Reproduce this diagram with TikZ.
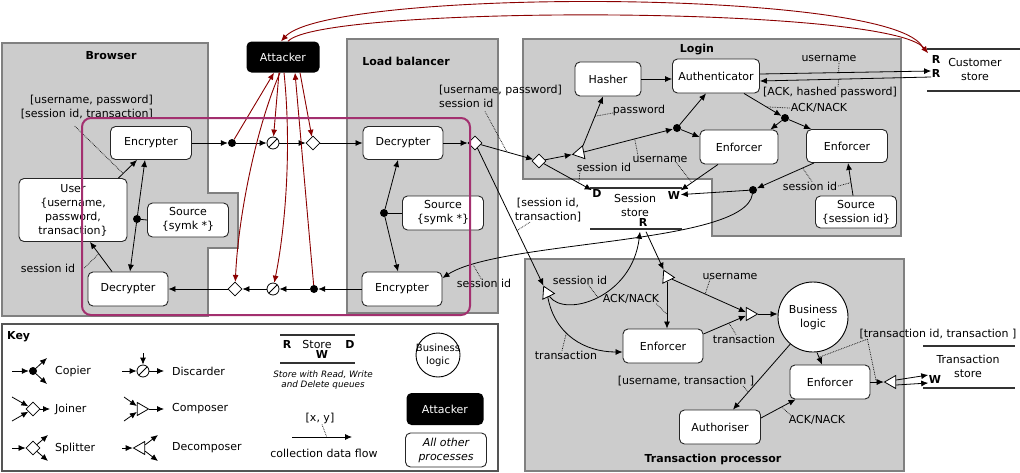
\documentclass[tikz,border=0pt]{standalone}
\usepackage{fontspec}
\setmainfont{DejaVu Sans}
\usetikzlibrary{shapes.geometric,arrows.meta}
\definecolor{panelgray}{HTML}{CCCCCC}
\definecolor{paneledge}{HTML}{808080}
\definecolor{attackred}{HTML}{8B0000}
\definecolor{trustline}{HTML}{A3306F}
\definecolor{keyedge}{HTML}{555555}
\tikzset{
  every node/.style={font=\fontsize{11}{14}\selectfont},
  panel/.style={fill=panelgray, draw=paneledge, line width=1.2pt},
  proc/.style={draw=black!85, fill=white, rounded corners=5pt, align=center, line width=0.9pt, inner sep=2pt},
  atkbox/.style={fill=black, text=white, rounded corners=5pt, inner sep=2pt, align=center},
  copier/.style={circle, fill=black, inner sep=0pt, minimum size=8pt},
  discarder/.style={circle, draw, fill=white, inner sep=0pt, minimum size=12pt, line width=0.8pt,
    path picture={\draw[line width=0.8pt] (path picture bounding box.south west) -- (path picture bounding box.north east);}},
  dmd/.style={diamond, draw, fill=white, inner sep=0pt, minimum size=14pt, line width=0.8pt},
  tri/.style={regular polygon, regular polygon sides=3, draw, fill=white, inner sep=0pt, minimum size=15pt, line width=0.8pt, shape border rotate=#1},
  flow/.style={line width=0.8pt, -{Latex[length=7pt,width=6pt]}},
  plainline/.style={line width=0.8pt},
  redflow/.style={draw=attackred, line width=0.9pt, -{Latex[length=7pt,width=6pt]}},
  leader/.style={densely dotted, line width=0.7pt},
  lbl/.style={inner sep=0pt, align=center},
  ttl/.style={inner sep=0pt, font=\fontsize{11}{14}\selectfont\bfseries},
  qlet/.style={inner sep=0.5pt, font=\fontsize{11}{14}\selectfont\bfseries},
  storeline/.style={line width=1.2pt, draw=black!80},
}
\begin{document}
\begin{tikzpicture}[x=1pt,y=-1pt]
\useasboundingbox (0,0) rectangle (1020,472);
\fill[white] (0,0) rectangle (1020,472);

% ---------- panels
\draw[panel] (2,43) -- (208,43) -- (208,193) -- (238,193) -- (238,248) -- (208,248) -- (208,316) -- (2,316) -- cycle;
\draw[panel] (347,39) rectangle (498,313);
\draw[panel] (523,39) -- (901,39) -- (901,236) -- (712,236) -- (712,179) -- (523,179) -- cycle;
\draw[panel] (525,259) rectangle (904,471);
\draw[draw=keyedge, line width=1.2pt] (2,324) rectangle (498,471);

\node[ttl] (tBrowser) at (111,56) {Browser};
\node[ttl] (tLoad) at (406,61) {Load balancer};
\node[ttl] (tLogin) at (697,50) {Login};
\node[ttl] (tTrans) at (713,459) {Transaction processor};
\node[ttl, anchor=west] (tKey) at (7,337) {Key};

% ---------- browser
\node[proc, minimum width=81pt, minimum height=33pt] (brEnc) at (151,143) {Encrypter};
\node[proc, minimum width=108pt, minimum height=63pt] (brUser) at (73,210) {User\\\{username,\\password,\\transaction\}};
\node[proc, minimum width=81pt, minimum height=34pt] (brSrc) at (188,220) {Source\\\{symk *\}};
\node[proc, minimum width=80pt, minimum height=34pt] (brDec) at (128,289) {Decrypter};
\node[copier] (brCp) at (137,219) {};

% ---------- attacker and channel
\node[atkbox, minimum width=73pt, minimum height=31pt] (atk) at (283,57) {Attacker};
\node[copier] (aCp1) at (232,143) {};
\node[discarder] (aDs1) at (273,143) {};
\node[dmd] (aJn1) at (313,143) {};
\node[copier] (aCp2) at (314,289) {};
\node[discarder] (aDs2) at (273,289) {};
\node[dmd] (aJn2) at (235,289) {};

% ---------- load balancer
\node[proc, minimum width=80pt, minimum height=33pt] (lbDec) at (403,143) {Decrypter};
\node[proc, minimum width=81pt, minimum height=34pt] (lbSrc) at (443,213) {Source\\\{symk *\}};
\node[copier] (lbCp) at (384,213) {};
\node[proc, minimum width=80pt, minimum height=34pt] (lbEnc) at (402,289) {Encrypter};
\node[dmd] (lbSp) at (475,143) {};

% ---------- login
\node[dmd] (lgSp) at (539,161) {};
\node[tri=101] (lgDc) at (580,153) {};
\node[proc, minimum width=66pt, minimum height=34pt] (hash) at (608,79) {Hasher};
\node[proc, minimum width=87pt, minimum height=34pt] (auth) at (716,76) {Authenticator};
\node[copier] (lgCp1) at (677,128) {};
\node[proc, minimum width=78pt, minimum height=34pt] (enfL) at (739,147) {Enforcer};
\node[proc, minimum width=81pt, minimum height=33pt] (enfR) at (847,146) {Enforcer};
\node[proc, minimum width=81pt, minimum height=32pt] (srcSid) at (856,212) {Source\\\{session id\}};
\node[copier] (lgCp2) at (785,118) {};
\node[copier] (lgCp3) at (753,190) {};

% ---------- session store
\draw[storeline] (590,188) -- (682,188);
\draw[storeline] (590,229) -- (682,229);
\node[qlet] (ssD) at (597,193) {D};
\node[qlet] (ssW) at (674,195) {W};
\node[qlet] (ssR) at (643,222) {R};
\node[lbl] (ssName) at (635,205) {Session\\store};

% ---------- customer store
\draw[storeline] (927,49) -- (1020,49);
\draw[storeline] (927,91) -- (1020,91);
\node[qlet] (csR1) at (936,59) {R};
\node[qlet] (csR2) at (936,73) {R};
\node[lbl] (csName) at (975,69) {Customer\\store};

% ---------- transaction processor
\node[tri=26] (tpDc1) at (547,293) {};
\node[tri=26] (tpDc2) at (667,277) {};
\node[tri=-90] (tpCo) at (750,314) {};
\node[proc, minimum width=80pt, minimum height=34pt] (tpEnfL) at (663,346) {Enforcer};
\node[circle, draw, fill=white, line width=0.9pt, minimum size=70pt, inner sep=0pt] (bl) at (813,317) {};
\node[lbl] (blT) at (bl) {Business\\logic};
\node[proc, minimum width=80pt, minimum height=34pt] (tpEnfR) at (830,382) {Enforcer};
\node[proc, minimum width=81pt, minimum height=34pt] (authz) at (720,427) {Authoriser};
\node[tri=90] (tpDc3) at (892,382) {};

% ---------- transaction store
\draw[storeline] (923,346) -- (1015,346);
\draw[storeline] (923,388) -- (1015,388);
\node[lbl] (tsName) at (968,366) {Transaction\\store};
\node[qlet] (tsW) at (935,379) {W};

% ---------- browser flows
\draw[flow] ([xshift=-9pt]brUser.north east) -- coordinate[pos=0.25] (fUserEnc) ([xshift=-14pt]brEnc.south);
\draw[flow] ([xshift=-16pt]brDec.north) -- coordinate[pos=0.6] (fDecUser) ([xshift=17pt]brUser.south);
\draw[flow] (brCp) -- ([xshift=-6pt]brEnc.south);
\draw[flow] (brCp) -- ([xshift=2pt]brDec.north);
\draw[plainline] (brSrc.west) -- (brCp);

% ---------- channel flows
\draw[flow] (brEnc) -- (aCp1);
\draw[flow] (aCp1) -- (aDs1);
\draw[flow] (aDs1) -- (aJn1);
\draw[flow] (aJn1) -- (lbDec);
\draw[flow] (lbEnc) -- (aCp2);
\draw[flow] (aCp2) -- (aDs2);
\draw[flow] (aDs2) -- (aJn2);
\draw[flow] (aJn2) -- (brDec);

% ---------- load balancer flows
\draw[flow] (lbDec) -- (lbSp);
\draw[flow] (lbCp) -- ([xshift=-5pt]lbDec.south);
\draw[flow] (lbCp) -- ([xshift=-4pt]lbEnc.north);
\draw[plainline] (lbSrc.west) -- (lbCp);
\draw[flow] (lbSp) -- coordinate[pos=0.5] (fLbLg) (lgSp);
\draw[flow] (lbSp) -- coordinate[pos=0.6] (fLbTp) (tpDc1);

% ---------- login flows
\draw[flow] (lgSp) -- (lgDc);
\draw[flow] (lgSp) -- coordinate[pos=0.73] (fSpD) (ssD);
\draw[flow] (lgDc) -- coordinate[pos=0.6] (fDcHash) ([xshift=-5pt]hash.south);
\draw[flow] (lgDc) -- coordinate[pos=0.57] (fDcCp) (lgCp1);
\draw[flow] (hash.east) -- (auth.west |- hash.east);
\draw[flow] (lgCp1) -- ([xshift=-10pt]auth.south);
\draw[flow] (lgCp1) -- ([yshift=10pt]enfL.west);
\draw[flow] ([xshift=-21pt]enfL.south) -- coordinate[pos=0.7] (fEnfW) (ssW);
\draw[flow] ([xshift=28pt]auth.south) -- coordinate[pos=0.6] (fAuthCp) (lgCp2);
\draw[flow] (lgCp2) -- ([xshift=-8pt]enfL.north east);
\draw[flow] (lgCp2) -- ([xshift=5pt]enfR.north west);
\draw[flow] ([xshift=-33pt]enfR.south) -- coordinate[pos=0.2] (fEnfRCp) (lgCp3);
\draw[flow] ([xshift=-3pt]srcSid.north) -- coordinate[pos=0.4] (fSrcEnf) ([xshift=1pt]enfR.south);
\draw[flow] (lgCp3) -- (ssW);
\draw[flow] (lgCp3) .. controls (745,245) and (500,240) .. ([yshift=11pt]lbEnc.east) coordinate[pos=0.87] (fCpLb);
\draw[flow] ([yshift=2pt]auth.east) -- coordinate[pos=0.46] (fAuthCs) ([yshift=2pt]csR2.west);
\draw[flow] ([yshift=-4pt]csR2.west) -- coordinate[pos=0.54] (fCsAuth) ([yshift=-5pt]auth.east);

% ---------- transaction processor flows
\draw[flow] (tpDc1) .. controls (565,318) and (632,298) .. ([xshift=-3pt,yshift=-5pt]ssR.south) coordinate[pos=0.5] (fSessCurve);
\draw[flow] (tpDc1) .. controls (555,335) and (585,352) .. ([yshift=-6pt]tpEnfL.west) coordinate[pos=0.4] (fTransCurve);
\draw[flow] ([xshift=3pt,yshift=-5pt]ssR.south) -- (tpDc2);
\draw[flow] (tpDc2) -- coordinate[pos=0.7] (fDc2Enf) (tpDc2 |- tpEnfL.north);
\draw[flow] (tpDc2) -- coordinate[pos=0.45] (fDc2Co) (tpCo);
\draw[flow] ([yshift=12pt]tpEnfL.east) -- coordinate[pos=0.6] (fEnfCo) (tpCo);
\draw[flow] (tpCo) -- (bl.west |- tpCo);
\draw[flow] ([xshift=4pt]bl.south) -- coordinate[pos=0.4] (fBlEnf) ([xshift=-8pt]tpEnfR.north);
\draw[flow] (bl.230) -- coordinate[pos=0.73] (fBlAz) ([xshift=13pt]authz.north);
\draw[flow] ([yshift=9pt]authz.east) -- coordinate[pos=0.6] (fAzEnf) ([xshift=6pt]tpEnfR.south west);
\draw[flow] (tpEnfR) -- coordinate[pos=0.45] (fEnfDc) (tpDc3);
\draw[flow] ([yshift=2pt]tpDc3.east) -- ([yshift=4pt]tsW.west);
\draw[flow] ([yshift=-3pt]tpDc3.east) -- ([yshift=-4pt]tsW.west);

% ---------- flow labels
\node[lbl, align=right, anchor=east] (lbBr1) at (153,107) {[username, password]\\{}[session id, transaction]};
\node[lbl] (lbBrSid) at (48,268) {session id};
\node[lbl, align=left, anchor=west] (lbLb1) at (439,96) {[username, password]\\session id};
\node[lbl] (lbLbSid) at (484,283) {session id};
\node[lbl] (lbSidTr) at (548,210) {[session id,\\transaction]};
\node[lbl] (lbPw) at (639,110) {password};
\node[lbl] (lbLgSid) at (604,167) {session id};
\node[lbl] (lbLgUn) at (660,159) {username};
\node[lbl] (lbAck1) at (819,108) {ACK/NACK};
\node[lbl] (lbCsUn) at (829,58) {username};
\node[lbl] (lbCsAck) at (830,92) {[ACK, hashed password]};
\node[lbl] (lbSid3) at (810,186) {session id};
\node[lbl] (lbTpSid) at (580,280) {session id};
\node[lbl] (lbTpTr) at (566,355) {transaction};
\node[lbl] (lbAck2) at (631,299) {ACK/NACK};
\node[lbl] (lbTpUn) at (730,276) {username};
\node[lbl] (lbTpTr2) at (744,339) {transaction};
\node[lbl] (lbUT) at (686,381) {[username, transaction ]};
\node[lbl] (lbTT) at (938,334) {[transaction id, transaction ]};
\node[lbl] (lbAck3) at (817,420) {ACK/NACK};

\draw[leader] ([xshift=-12pt,yshift=-7pt]lbBr1.south) -- (fUserEnc);
\draw[leader] ([xshift=9pt]lbBrSid.east) -- (fDecUser);
\draw[leader] ([xshift=46pt,yshift=-4pt]lbLb1.south west) -- (fLbLg);
\draw[leader] ([xshift=-3pt]lbLbSid.north) -- (fCpLb);
\draw[leader] ([xshift=-18pt]lbSidTr.south) -- (fLbTp);
\draw[leader] ([yshift=-3pt]lbPw.west) -- (fDcHash);
\draw[leader] ([xshift=-24pt]lbLgSid.south) -- (fSpD);
\draw[leader] ([xshift=-22pt]lbLgUn.north) -- (fDcCp);
\draw[leader] ([xshift=16pt]lbLgUn.south) -- (fEnfW);
\draw[leader] ([xshift=-1pt]lbAck1.west) -- (fAuthCp);
\draw[leader] ([xshift=10pt]lbCsUn.south) -- (fAuthCs);
\draw[leader] ([xshift=8pt]lbCsAck.north) -- (fCsAuth);
\draw[leader] ([xshift=2pt]lbSid3.north) -- (fEnfRCp);
\draw[leader] ([xshift=1pt]lbSid3.east) -- (fSrcEnf);
\draw[leader] ([xshift=8pt]lbTpSid.south) -- (fSessCurve);
\draw[leader] ([xshift=-4pt]lbTpTr.north) -- (fTransCurve);
\draw[leader] ([xshift=-3pt]lbAck2.south east) -- (fDc2Enf);
\draw[leader] ([xshift=-20pt]lbTpUn.south) -- (fDc2Co);
\draw[leader] ([xshift=-8pt]lbTpTr2.north) -- (fEnfCo);
\draw[leader] ([xshift=57pt]lbUT.south) -- (fBlAz);
\draw[leader] ([xshift=8pt]lbTT.south west) -- (fBlEnf);
\draw[leader] ([xshift=8pt]lbTT.south west) -- (fEnfDc);
\draw[leader] ([xshift=2pt]lbAck3.north west) -- (fAzEnf);

% ---------- attacker flows
\draw[redflow] (aCp1) -- ([xshift=-9pt]atk.south);
\draw[redflow] ([xshift=-4pt]atk.south) -- (aDs1);
\draw[redflow] ([xshift=17pt]atk.south) -- (aJn1);
\draw[redflow] ([xshift=-3pt]atk.south) .. controls (255,130) and (238,220) .. (aJn2);
\draw[redflow] ([xshift=1pt]atk.south) .. controls (292,150) and (285,230) .. (aDs2);
\draw[redflow] (aCp2) -- ([xshift=12pt]atk.south);
\draw[redflow] ([xshift=-8pt,yshift=6pt]csR1.north west) .. controls (900,-12) and (330,-12) .. ([xshift=-2pt]atk.north);
\draw[redflow] ([xshift=5pt]atk.north) .. controls (320,5) and (890,5) .. ([xshift=-3pt,yshift=1pt]csR1.north west);

% ---------- trust boundary
\draw[draw=trustline, line width=2pt, rounded corners=9pt] (82,118) rectangle (470,315);

% ---------- key
\node[copier] (kCp) at (33,371) {};
\coordinate (kCpI) at (12,371); \coordinate (kCpA) at (47,358); \coordinate (kCpB) at (47,384);
\draw[flow] (kCpI) -- (kCp); \draw[flow] (kCp) -- (kCpA); \draw[flow] (kCp) -- (kCpB);
\node[anchor=west, inner sep=0pt] (kCpT) at (55,371) {Copier};

\node[dmd] (kJn) at (33,409) {};
\coordinate (kJnA) at (12,397); \coordinate (kJnB) at (12,421); \coordinate (kJnO) at (50,409);
\draw[flow] (kJnA) -- (kJn); \draw[flow] (kJnB) -- (kJn); \draw[flow] (kJn) -- (kJnO);
\node[anchor=west, inner sep=0pt] (kJnT) at (55,409) {Joiner};

\node[dmd] (kSp) at (33,448) {};
\coordinate (kSpI) at (12,448); \coordinate (kSpA) at (48,435); \coordinate (kSpB) at (48,461);
\draw[flow] (kSpI) -- (kSp); \draw[flow] (kSp) -- (kSpA); \draw[flow] (kSp) -- (kSpB);
\node[anchor=west, inner sep=0pt] (kSpT) at (55,448) {Splitter};

\node[discarder] (kDs) at (143,371) {};
\coordinate (kDsI) at (122,371); \coordinate (kDsTop) at (143,353); \coordinate (kDsO) at (164,371);
\draw[flow] (kDsI) -- (kDs); \draw[flow] (kDsTop) -- (kDs); \draw[flow] (kDs) -- (kDsO);
\node[anchor=west, inner sep=0pt] (kDsT) at (172,371) {Discarder};

\node[tri=-90] (kCo) at (141,409) {};
\coordinate (kCoA) at (124,397); \coordinate (kCoB) at (124,421); \coordinate (kCoO) at (164,409);
\draw[flow] (kCoA) -- (kCo); \draw[flow] (kCoB) -- (kCo); \draw[flow] (kCo) -- (kCoO);
\node[anchor=west, inner sep=0pt] (kCoT) at (172,409) {Composer};

\node[tri=90] (kDc) at (141,448) {};
\coordinate (kDcI) at (122,448); \coordinate (kDcA) at (158,435); \coordinate (kDcB) at (158,461);
\draw[flow] (kDcI) -- (kDc); \draw[flow] (kDc) -- (kDcA); \draw[flow] (kDc) -- (kDcB);
\node[anchor=west, inner sep=0pt] (kDcT) at (172,448) {Decomposer};

\draw[storeline] (280,335) -- (355,335);
\draw[storeline] (280,363) -- (355,363);
\node[qlet] (kR) at (287,344) {R};
\node[lbl] (kStore) at (317,344) {Store};
\node[qlet] (kD) at (350,344) {D};
\node[qlet] (kW) at (322,354) {W};
\node[lbl, font=\fontsize{8.8}{10.5}\selectfont\itshape] (kStoreT) at (323,380) {Store with Read, Write\\and Delete queues};

\node[lbl] (kxy) at (320,418) {[x, y]};
\coordinate (kFa) at (292,437); \coordinate (kFb) at (352,437);
\draw[flow] (kFa) -- coordinate[pos=0.58] (kFm) (kFb);
\draw[leader] ([xshift=2pt,yshift=-1pt]kxy.south) -- (kFm);
\node[lbl] (kFlowT) at (324,453) {collection data flow};

\node[circle, draw, line width=0.9pt, minimum size=44pt, inner sep=0pt] (kBl) at (438,355) {};
\node[lbl, font=\fontsize{10}{13}\selectfont] (kBlT) at (kBl) {Business\\logic};
\node[atkbox, minimum width=77pt, minimum height=32pt] (kAtk) at (445,409) {Attacker};
\node[proc, font=\fontsize{11}{14}\selectfont\itshape, minimum width=81pt, minimum height=34pt] (kOther) at (446,450) {All other\\processes};
\end{tikzpicture}
\end{document}
